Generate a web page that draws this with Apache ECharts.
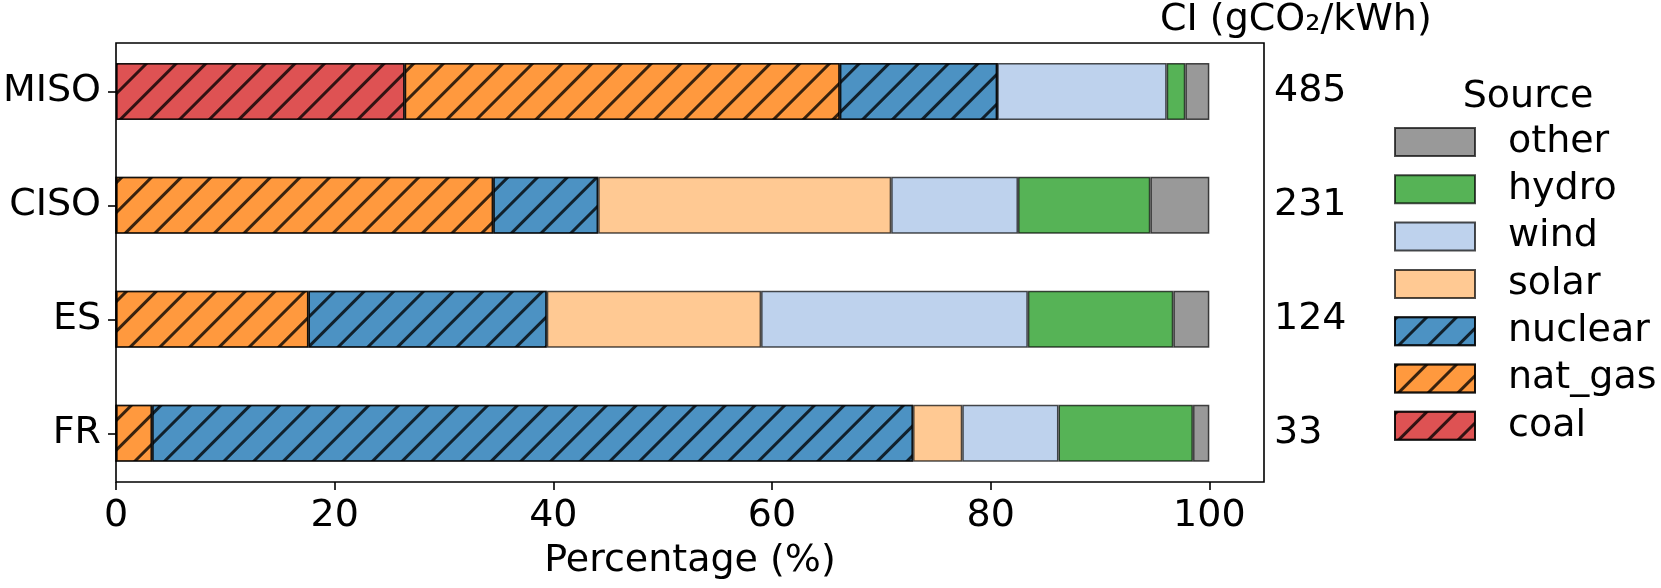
<!DOCTYPE html>
<html>
<head>
<meta charset="utf-8">
<script src="https://cdn.jsdelivr.net/npm/echarts@6/dist/echarts.min.js"></script>
<style>
html,body{margin:0;padding:0;background:#fff;}
#chart{width:1661px;height:588px;}
</style>
</head>
<body>
<div id="chart"></div>
<script>
const categories = ['MISO', 'CISO', 'ES', 'FR'];
const ciValues = ['485', '231', '124', '33'];
const coal    = [26.4, 0, 0, 0];
const natGas  = [39.8, 34.5, 17.6, 3.3];
const nuclear = [14.4, 9.6, 21.8, 69.6];
const solar   = [0, 26.8, 19.6, 4.5];
const wind    = [15.5, 11.6, 24.4, 8.8];
const hydro   = [1.7, 12.1, 13.3, 12.3];
const other   = [2.2, 5.4, 3.3, 1.5];
const xTicks  = [0, 20, 40, 60, 80, 100];

const FONT = 'DejaVu Sans';
const FS = 38;
const hatch = {
  symbol: 'rect',
  symbolSize: 1,
  dashArrayX: [1, 0],
  dashArrayY: [3, 18],
  rotation: -Math.PI / 4,
  color: 'rgba(0,0,0,0.78)'
};

const seriesDefs = [
  {name: 'coal', data: coal, color: '#de5253', hatched: true},
  {name: 'nat_gas', data: natGas, color: '#ff993e', hatched: true},
  {name: 'nuclear', data: nuclear, color: '#4c92c3', hatched: true},
  {name: 'solar', data: solar, color: '#ffc993', hatched: false},
  {name: 'wind', data: wind, color: '#bed2ed', hatched: false},
  {name: 'hydro', data: hydro, color: '#56b356', hatched: false},
  {name: 'other', data: other, color: '#999999', hatched: false}
];

const series = seriesDefs.map(d => ({
  name: d.name,
  type: 'bar',
  stack: 'total',
  xAxisIndex: 0,
  yAxisIndex: 0,
  barWidth: '50%',
  data: d.data,
  itemStyle: Object.assign({
    color: d.color,
    borderColor: 'rgba(0,0,0,0.7)',
    borderWidth: 1.5
  }, d.hatched ? {decal: hatch} : {}),
  emphasis: {disabled: true}
}));

const chart = echarts.init(document.getElementById('chart'), null, {renderer: 'canvas'});
chart.setOption({
  animation: false,
  backgroundColor: '#fff',
  textStyle: {fontFamily: FONT},
  title: [
    {text: 'CI (gCO₂/kWh)', left: 1160, top: 1, padding: 0,
     textStyle: {fontFamily: FONT, fontSize: FS, fontWeight: 'normal', color: '#000'}},
    {text: 'Source', left: 1528, top: 78, padding: 0, textAlign: 'center',
     textStyle: {fontFamily: FONT, fontSize: FS, fontWeight: 'normal', color: '#000'}}
  ],
  legend: {
    orient: 'vertical',
    left: 1394,
    top: 123,
    padding: 0,
    icon: 'rect',
    itemWidth: 80,
    itemHeight: 28,
    itemGap: 9.3,
    selectedMode: false,
    data: ['other', 'hydro', 'wind', 'solar', 'nuclear', 'nat_gas', 'coal'],
    textStyle: {fontFamily: FONT, fontSize: FS, color: '#000', padding: [0, 0, 0, 28]}
  },
  grid: [
    {left: 116, right: 397, top: 34.4, bottom: 97.7, containLabel: false},
    {left: 116, right: 397, top: 43, bottom: 106, show: true, borderColor: '#000', borderWidth: 1.6, backgroundColor: 'transparent', z: 10}
  ],
  xAxis: [
    {gridIndex: 0, type: 'value', min: 0, max: 105, show: false},
    {gridIndex: 1, type: 'value', min: 0, max: 105, position: 'bottom',
     name: 'Percentage (%)', nameLocation: 'middle', nameGap: 60,
     nameTextStyle: {fontFamily: FONT, fontSize: FS, color: '#000'},
     axisLine: {show: false},
     splitLine: {show: false},
     axisTick: {show: true, length: 8, lineStyle: {color: '#000', width: 1.6}, customValues: xTicks},
     axisLabel: {fontFamily: FONT, fontSize: FS, color: '#000', margin: 15, customValues: xTicks}
    }
  ],
  yAxis: [
    {gridIndex: 0, type: 'category', data: categories, inverse: true,
     axisLine: {show: false},
     axisTick: {show: true, alignWithLabel: true, length: 8, lineStyle: {color: '#000', width: 1.6}},
     axisLabel: {fontFamily: FONT, fontSize: FS, color: '#000', margin: 15}
    },
    {gridIndex: 0, type: 'category', data: ciValues, inverse: true, position: 'right',
     axisLine: {show: false},
     axisTick: {show: false},
     axisLabel: {fontFamily: FONT, fontSize: FS, color: '#000', margin: 10}
    },
    {gridIndex: 1, type: 'value', min: 0, max: 1, show: false}
  ],
  series: series
});
</script>
</body>
</html>
